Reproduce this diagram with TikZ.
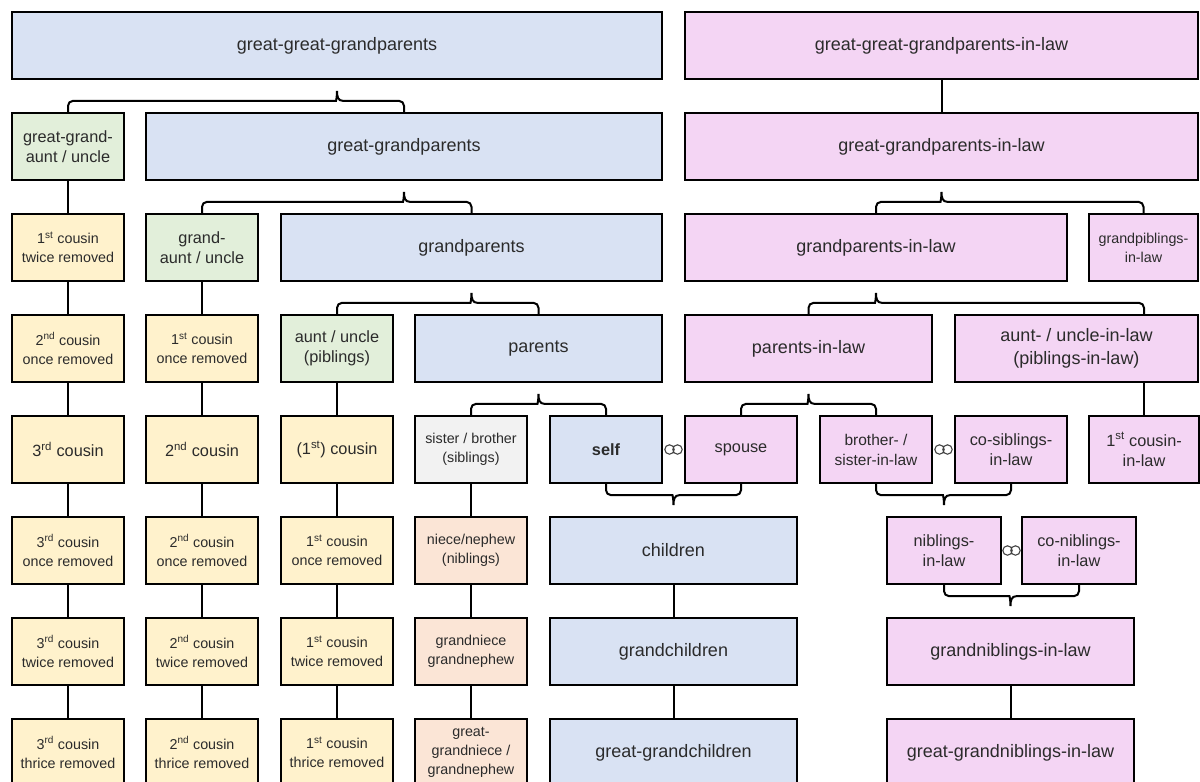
\documentclass[tikz,border=0pt]{standalone}
\usepackage{fontspec}
\setmainfont{Liberation Sans}
\usetikzlibrary{calc}
\definecolor{bluef}{HTML}{D9E2F3}
\definecolor{pinkf}{HTML}{F4D5F4}
\definecolor{greenf}{HTML}{E2EFDA}
\definecolor{yellowf}{HTML}{FFF2CC}
\definecolor{peachf}{HTML}{FBE5D6}
\definecolor{grayf}{HTML}{F2F2F2}
\definecolor{txtc}{HTML}{2B2B2B}
\definecolor{ringc}{HTML}{444444}
\tikzset{
  box/.style={draw=black, line width=2.3pt, text=txtc, align=center, inner sep=0pt,
    minimum height=67pt, minimum width=112pt, anchor=center},
  fb/.style={font=\fontsize{18}{23}\selectfont},
  fm/.style={font=\fontsize{16.3}{20}\selectfont},
  fs/.style={font=\fontsize{14.3}{19}\selectfont},
  bl/.style={box, fill=bluef},
  pk/.style={box, fill=pinkf},
  gr/.style={box, fill=greenf},
  ye/.style={box, fill=yellowf},
  pe/.style={box, fill=peachf},
  gy/.style={box, fill=grayf},
  conn/.style={draw=black, line width=2pt},
  ring/.style={draw=ringc, line width=1.1pt},
}
\newcommand{\bup}[3]{\draw[conn] (#1) [rounded corners=5pt] -- ++(0,-11) -- ($(#3 |- #1)+(-6,-11)$) [sharp corners] .. controls +(5,0) and +(0,6) .. ++(6,-10) .. controls +(0,6) and +(-5,0) .. ++(6,10) [rounded corners=5pt] -- ($(#2)+(0,-11)$) -- (#2);}
\newcommand{\bdown}[3]{\draw[conn] (#1) [rounded corners=5pt] -- ++(0,11) -- ($(#3 |- #1)+(-6,11)$) [sharp corners] .. controls +(5,0) and +(0,-6) .. ++(6,10) .. controls +(0,-6) and +(-5,0) .. ++(6,-10) [rounded corners=5pt] -- ($(#2)+(0,11)$) -- (#2);}
\newcommand{\rings}[2]{\draw[ring] ($(#1.east)!0.5!(#2.west)+(-4,0)$) circle[radius=4.7pt] ($(#1.east)!0.5!(#2.west)+(4,0)$) circle[radius=4.7pt];}
\newcommand{\sups}[1]{\textsuperscript{#1}}
\begin{document}
\begin{tikzpicture}[x=1pt,y=-1pt]
\useasboundingbox (0,0) rectangle (1200,782);
\fill[white] (0,0) rectangle (1200,782);
\clip (0,0) rectangle (1200,782);
% row 0
\node[bl, fb, minimum width=650pt] (ggp) at (337,45.5) {great-great-grandparents};
\node[pk, fb, minimum width=513pt] (ggpil) at (941.5,45.5) {great-great-grandparents-in-law};
% row 1
\node[gr, fm] (ggau) at (68,146.5) {great-grand-\\aunt / uncle};
\node[bl, fb, minimum width=516pt] (gp1) at (404,146.5) {great-grandparents};
\node[pk, fb, minimum width=513pt] (gpil1) at (941.5,146.5) {great-grandparents-in-law};
% row 2
\node[ye, fs] (c1tw) at (68,247.5) {1\sups{st} cousin\\twice removed};
\node[gr, fm] (gau) at (202,247.5) {grand-\\aunt / uncle};
\node[bl, fb, minimum width=381pt] (gp) at (471.5,247.5) {grandparents};
\node[pk, fb, minimum width=382pt] (gpil) at (876,247.5) {grandparents-in-law};
\node[pk, fs, minimum width=109pt] (gpibil) at (1143.5,247.5) {grandpiblings-\\in-law};
% row 3
\node[ye, fs] (c2o1) at (68,348.5) {2\sups{nd} cousin\\once removed};
\node[ye, fs] (c1o1) at (202,348.5) {1\sups{st} cousin\\once removed};
\node[gr, fm] (au) at (337,348.5) {aunt / uncle\\(piblings)};
\node[bl, fb, minimum width=247pt] (par) at (538.5,348.5) {parents};
\node[pk, fb, minimum width=247pt] (pil) at (808.5,348.5) {parents-in-law};
\node[pk, fb, minimum width=243pt] (auil) at (1076.5,348.5) {aunt- / uncle-in-law\\(piblings-in-law)};
% row 4
\node[ye, fm] (c3) at (68,449.5) {3\sups{rd} cousin};
\node[ye, fm] (c2) at (202,449.5) {2\sups{nd} cousin};
\node[ye, fm] (c1) at (337,449.5) {(1\sups{st}) cousin};
\node[gy, fs] (sib) at (471,449.5) {sister / brother\\(siblings)};
\node[bl, fm, font=\fontsize{16.3}{20}\selectfont\bfseries] (self) at (606,449.5) {self};
\node[pk, fm] (spouse) at (741,449.5) {spouse};
\node[pk, font=\fontsize{15.5}{20}\selectfont] (bil) at (876,449.5) {brother- /\\sister-in-law};
\node[pk, fm] (cosib) at (1011,449.5) {co-siblings-\\in-law};
\node[pk, fm, minimum width=110pt] (c1il) at (1144,449.5) {1\sups{st} cousin-\\in-law};
% row 5
\node[ye, fs] (c3o1) at (68,550.5) {3\sups{rd} cousin\\once removed};
\node[ye, fs] (c2o1b) at (202,550.5) {2\sups{nd} cousin\\once removed};
\node[ye, fs] (c1o1b) at (337,550.5) {1\sups{st} cousin\\once removed};
\node[pe, fs] (nib) at (471,550.5) {niece/nephew\\(niblings)};
\node[bl, fb, minimum width=247pt] (chi) at (673.5,550.5) {children};
\node[pk, fm, minimum width=114pt] (nibil) at (944,550.5) {niblings-\\in-law};
\node[pk, fm, minimum width=114pt] (conibil) at (1079,550.5) {co-niblings-\\in-law};
% row 6
\node[ye, fs] (c3tw) at (68,651.5) {3\sups{rd} cousin\\twice removed};
\node[ye, fs] (c2tw) at (202,651.5) {2\sups{nd} cousin\\twice removed};
\node[ye, fs] (c1twb) at (337,651.5) {1\sups{st} cousin\\twice removed};
\node[pe, fs] (gnib) at (471,651.5) {grandniece\\grandnephew};
\node[bl, fb, minimum width=247pt] (gchi) at (673.5,651.5) {grandchildren};
\node[pk, fb, minimum width=247pt] (gnibil) at (1010.5,651.5) {grandniblings-in-law};
% row 7
\node[ye, fs] (c3th) at (68,752.5) {3\sups{rd} cousin\\thrice removed};
\node[ye, fs] (c2th) at (202,752.5) {2\sups{nd} cousin\\thrice removed};
\node[ye, fs] (c1th) at (337,752.5) {1\sups{st} cousin\\thrice removed};
\node[pe, fs] (ggnib) at (471,752.5) {great-\\grandniece /\\grandnephew};
\node[bl, fb, minimum width=247pt] (ggchi) at (673.5,752.5) {great-grandchildren};
\node[pk, fb, minimum width=247pt] (ggnibil) at (1010.5,752.5) {great-grandniblings-in-law};
% vertical connectors
\foreach \a/\b in {ggau/c1tw, c1tw/c2o1, c2o1/c3, c3/c3o1, c3o1/c3tw, c3tw/c3th,
  gau/c1o1, c1o1/c2, c2/c2o1b, c2o1b/c2tw, c2tw/c2th,
  au/c1, c1/c1o1b, c1o1b/c1twb, c1twb/c1th,
  sib/nib, nib/gnib, gnib/ggnib,
  chi/gchi, gchi/ggchi, gnibil/ggnibil, ggpil/gpil1}
  \draw[conn] (\a.south) -- (\b.north);
\draw[conn] (c1il.north) -- (c1il.north |- auil.south);
% braces
\coordinate (auilR) at (auil.north -| c1il.north);
\bup{ggau.north}{gp1.north}{ggp.south}
\bup{gau.north}{gp.north}{gp1.south}
\bup{au.north}{par.north}{gp.south}
\bup{sib.north}{self.north}{par.south}
\bup{spouse.north}{bil.north}{pil.south}
\bup{gpil.north}{gpibil.north}{gpil1.south}
\bup{pil.north}{auilR}{gpil.south}
\bdown{self.south}{spouse.south}{chi.north}
\bdown{bil.south}{cosib.south}{nibil.north}
\bdown{nibil.south}{conibil.south}{gnibil.north}
% rings
\rings{self}{spouse}
\rings{bil}{cosib}
\rings{nibil}{conibil}
\end{tikzpicture}
\end{document}
